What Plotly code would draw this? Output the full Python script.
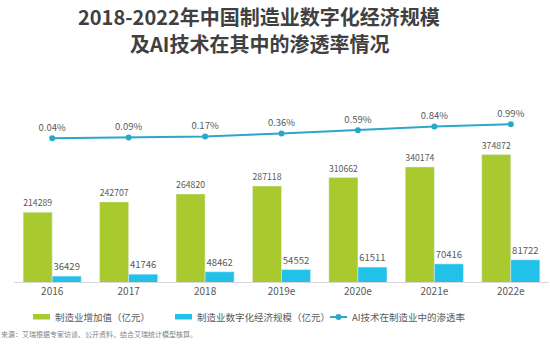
import plotly.graph_objects as go

# ---- data ----
years = ["2016", "2017", "2018", "2019e", "2020e", "2021e", "2022e"]
mfg_value_added = [214289, 242707, 264820, 287118, 310662, 340174, 374872]
mfg_digital_scale = [36429, 41746, 48462, 54552, 61511, 70416, 81722]
ai_penetration = [0.04, 0.09, 0.17, 0.36, 0.59, 0.84, 0.99]

title_line1 = "2018-2022年中国制造业数字化经济规模"
title_line2 = "及AI技术在其中的渗透率情况"
name_green = "制造业增加值（亿元）"
name_blue = "制造业数字化经济规模（亿元）"
name_line = "AI技术在制造业中的渗透率"
source_note = "来源：艾瑞根据专家访谈、公开资料，结合艾瑞统计模型核算。"

GREEN = "#a9ca2f"
BLUE = "#22c1ea"
LINE = "#2aa8ca"
TXT = "#595959"
FONT = "Noto Sans CJK SC"

W, H = 550, 362
ML, MR, MT, MB = 14, 1, 100, 80
PW = W - ML - MR
PH = H - MT - MB


def px_x(p):
    return (p - ML) / PW


def px_y(p):
    return (H - MB - p) / PH


fig = go.Figure()
fig.add_trace(go.Bar(
    x=years, y=mfg_value_added, name=name_green, marker_color=GREEN,
    text=[str(v) for v in mfg_value_added], textposition="outside",
    textfont=dict(size=9.5, color=TXT, family=FONT), cliponaxis=False,
    showlegend=False,
))
fig.add_trace(go.Bar(
    x=years, y=mfg_digital_scale, name=name_blue, marker_color=BLUE,
    text=[str(v) for v in mfg_digital_scale], textposition="outside",
    textfont=dict(size=9.5, color=TXT, family=FONT), cliponaxis=False,
    showlegend=False,
))
fig.add_trace(go.Scatter(
    x=years, y=ai_penetration, name=name_line, yaxis="y2",
    mode="lines+markers+text",
    line=dict(color=LINE, width=2), marker=dict(color=LINE, size=6),
    text=[f"{v:.2f}%" for v in ai_penetration], textposition="top center",
    textfont=dict(size=9.5, color=TXT, family=FONT), cliponaxis=False,
    showlegend=False,
))

# manual legend
shapes = [
    dict(type="rect", xref="paper", yref="paper", x0=px_x(33), x1=px_x(50),
         y0=px_y(319.5), y1=px_y(314), fillcolor=GREEN, line=dict(width=0)),
    dict(type="rect", xref="paper", yref="paper", x0=px_x(175), x1=px_x(192),
         y0=px_y(319.5), y1=px_y(314), fillcolor=BLUE, line=dict(width=0)),
    dict(type="line", xref="paper", yref="paper", x0=px_x(330), x1=px_x(347),
         y0=px_y(317), y1=px_y(317), line=dict(color=LINE, width=2)),
    dict(type="circle", xref="paper", yref="paper", x0=px_x(335.5), x1=px_x(341.5),
         y0=px_y(320), y1=px_y(314), fillcolor=LINE, line=dict(width=0)),
]
annotations = [
    dict(text=f"<b>{title_line1}</b>", xref="paper", yref="paper",
         x=px_x(259), y=px_y(16.5), xanchor="center", yanchor="middle",
         showarrow=False, font=dict(size=20, color="#404040", family=FONT)),
    dict(text=f"<b>{title_line2}</b>", xref="paper", yref="paper",
         x=px_x(259), y=px_y(43.5), xanchor="center", yanchor="middle",
         showarrow=False, font=dict(size=20, color="#404040", family=FONT)),
    dict(text=name_green, xref="paper", yref="paper", x=px_x(53), y=px_y(317),
         xanchor="left", yanchor="middle", showarrow=False,
         font=dict(size=9.5, color=TXT, family=FONT)),
    dict(text=name_blue, xref="paper", yref="paper", x=px_x(195), y=px_y(317),
         xanchor="left", yanchor="middle", showarrow=False,
         font=dict(size=9.5, color=TXT, family=FONT)),
    dict(text=name_line, xref="paper", yref="paper", x=px_x(350), y=px_y(317),
         xanchor="left", yanchor="middle", showarrow=False,
         font=dict(size=9.5, color=TXT, family=FONT)),
    dict(text=source_note,
         xref="paper", yref="paper", x=px_x(-1), y=px_y(334),
         xanchor="left", yanchor="middle", showarrow=False,
         font=dict(size=7, color="#7f7f7f", family=FONT)),
]

fig.update_layout(
    width=W, height=H,
    margin=dict(l=ML, r=MR, t=MT, b=MB),
    paper_bgcolor="white", plot_bgcolor="white",
    barmode="group", bargap=0.24, bargroupgap=0,
    xaxis=dict(
        showline=True, linecolor="#d9d9d9", linewidth=1,
        showgrid=False, ticks="", zeroline=False,
        tickfont=dict(size=10, color=TXT, family=FONT),
    ),
    yaxis=dict(visible=False, range=[20000, 20000 + PH * 2783], fixedrange=True),
    yaxis2=dict(visible=False, overlaying="y", range=[-9.708, 2.639], fixedrange=True),
    shapes=shapes, annotations=annotations,
    font=dict(family=FONT, color=TXT),
)

fig.write_html(
    "out.html",
    config={"displayModeBar": False},
    post_script="document.body.style.margin='0';document.body.style.padding='0';",
)
